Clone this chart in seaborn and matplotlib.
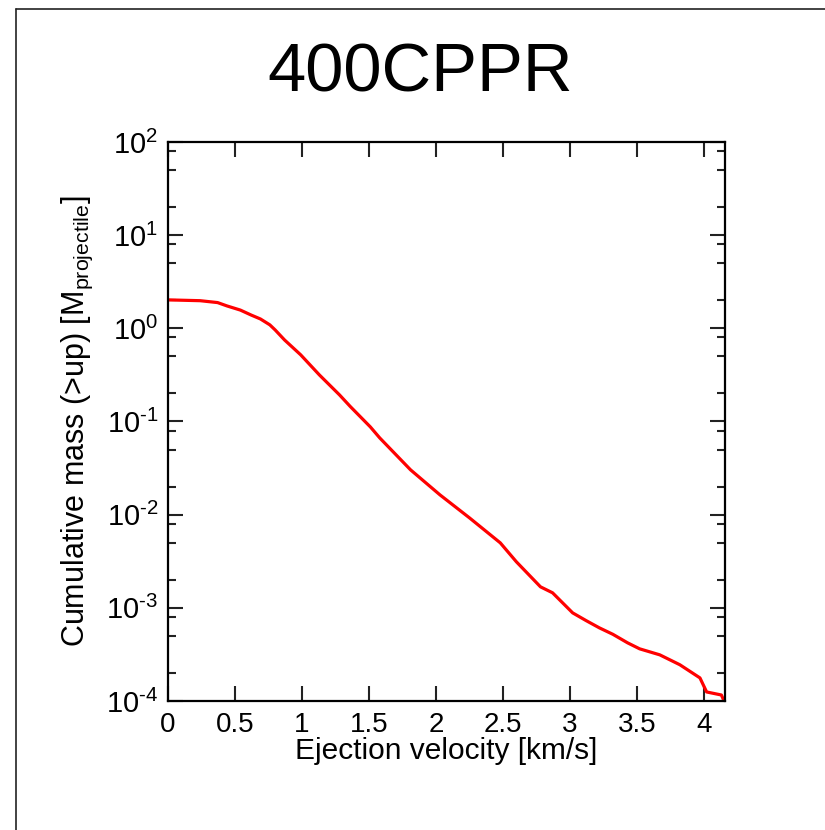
import numpy as np
import pandas as pd
import seaborn as sns
import matplotlib.pyplot as plt
from matplotlib.lines import Line2D
from matplotlib.ticker import LogLocator, MultipleLocator, NullFormatter

# cumulative mass above ejection velocity
velocity = [0.0, 0.24, 0.37, 0.44, 0.54, 0.62, 0.69, 0.76, 0.80, 0.87, 0.99,
            1.13, 1.28, 1.36, 1.51, 1.58, 1.81, 2.03, 2.25, 2.48, 2.60, 2.78,
            2.87, 3.02, 3.12, 3.22, 3.32, 3.43, 3.52, 3.67, 3.82, 3.97, 4.02,
            4.13, 4.15]
cum_mass = [2.02, 1.98, 1.89, 1.74, 1.57, 1.39, 1.26, 1.09, 0.96, 0.75, 0.52,
            0.316, 0.193, 0.145, 0.0875, 0.0667, 0.0303, 0.0163, 0.00924,
            0.00498, 0.00312, 0.00168, 0.00145, 0.000883, 0.00073, 0.000609,
            0.00052, 0.000421, 0.000363, 0.000313, 0.000245, 0.000177,
            0.000125, 0.000116, 0.0001]

df = pd.DataFrame({"v": velocity, "m": cum_mass})

sns.set_theme(style="ticks")
plt.rcParams["font.family"] = ["Liberation Sans", "DejaVu Sans"]
plt.rcParams["mathtext.fontset"] = "custom"
plt.rcParams["mathtext.rm"] = "Liberation Sans"
plt.rcParams["mathtext.it"] = "Liberation Sans"
for k in ["text.color", "axes.labelcolor", "xtick.color", "ytick.color"]:
    plt.rcParams[k] = "black"


def pow10(v, pos):
    e = int(round(np.log10(v)))
    if e < 0:
        return r"$\mathregular{10^{\text{-}%d}}$" % (-e)
    return r"$\mathregular{10^{%d}}$" % e


fig = plt.figure(figsize=(8.25, 8.30), dpi=100)
ax = fig.add_axes([168 / 825, 1 - 701 / 830, 557 / 825, 559 / 830])

sns.lineplot(data=df, x="v", y="m", ax=ax, color="#ff0000", linewidth=2.3)

ax.set_yscale("log")
ax.set_xlim(0, 4.157)
ax.set_ylim(1e-4, 1e2)
ax.xaxis.set_major_locator(MultipleLocator(0.5))
ax.xaxis.set_major_formatter(plt.FuncFormatter(lambda v, p: f"{v:g}"))
ax.yaxis.set_major_locator(LogLocator(base=10, numticks=20))
ax.yaxis.set_major_formatter(plt.FuncFormatter(pow10))
ax.yaxis.set_minor_locator(LogLocator(base=10, subs=[2, 5, 8], numticks=20))
ax.yaxis.set_minor_formatter(NullFormatter())

for s in ax.spines.values():
    s.set_linewidth(1.6)
    s.set_color("black")
ax.tick_params(which="both", direction="in", top=True, right=True, color="#222222")
ax.tick_params(which="major", length=10.5, width=1.5)
ax.tick_params(axis="x", labelsize=20, pad=8)
ax.tick_params(axis="y", labelsize=21, pad=7)
ax.tick_params(which="minor", length=5.5, width=1.5)

ax.set_xlabel("Ejection velocity [km/s]", fontsize=21.5, labelpad=-1)
ax.set_ylabel(r"Cumulative mass (>up) [M$_{\mathrm{projectile}}$]", fontsize=22, labelpad=8)

fig.text(420 / 825, 1 - 74 / 830, "400CPPR", fontsize=49.5, ha="center", va="center")

# outer frame (left and top edges only)
fig.add_artist(Line2D([16 / 825, 16 / 825], [0, 1 - 9 / 830], color="#222222", lw=1.2))
fig.add_artist(Line2D([16 / 825, 1], [1 - 9 / 830, 1 - 9 / 830], color="#222222", lw=1.2))

plt.savefig("out.png", dpi=100)
